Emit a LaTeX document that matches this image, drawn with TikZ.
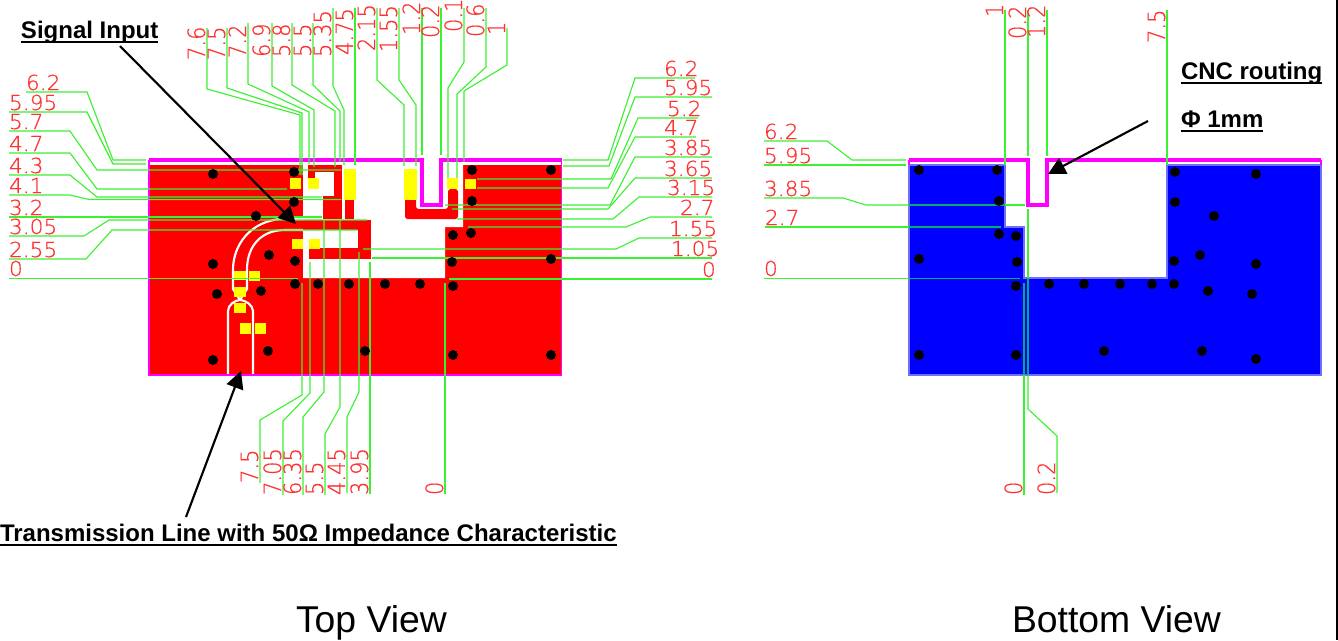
\documentclass[tikz,border=0pt]{standalone}
\usepackage{fontspec}
\usepackage{graphicx}
\usetikzlibrary{arrows.meta}
\setmainfont{Liberation Sans}
\newfontfamily\dimfont[FakeBold=0.5]{DejaVu Sans ExtraLight}
\definecolor{pcbred}{RGB}{255,0,0}
\definecolor{pcbblue}{RGB}{0,0,255}
\definecolor{pcbedge}{RGB}{110,110,255}
\definecolor{route}{RGB}{255,0,255}
\definecolor{pad}{RGB}{255,255,0}
\definecolor{dimgreen}{RGB}{60,240,50}
\definecolor{dimteal}{RGB}{0,175,110}
\definecolor{dimred}{RGB}{255,50,50}
\newcounter{lbl}
\newcommand\ulbox[1]{\setbox0=\hbox{#1}\leavevmode\rlap{\rule[-0.2em]{\wd0}{0.11em}}\box0}
\newcommand\hlab[3]{\stepcounter{lbl}\node[dimh] (lab\arabic{lbl}) at (#1,#2-2) {\scalebox{1.05}[1]{#3}};}
\newcommand\vlab[3]{\stepcounter{lbl}\node[dimv] (lab\arabic{lbl}) at (#1-2,#2) {\scalebox{1.02}[1.15]{#3}};}
\tikzset{
  dimh/.style={anchor=base west,inner sep=0pt,outer sep=0pt,text=dimred,font=\dimfont\fontsize{15.5pt}{16pt}\selectfont},
  dimv/.style={dimh,rotate=90},
  leader/.style={draw=dimgreen,line width=0.85pt,line join=miter},
  leaderb/.style={draw=dimteal,line width=0.85pt},
  cutline/.style={draw=route,line width=2.6pt,line join=miter},
  thinedge/.style={draw=route,line width=1.1pt},
  trackline/.style={draw=white,line width=1.6pt},
  callout/.style={draw=black,line width=1.6pt,-{Triangle[length=13pt,width=13pt]}},
  bold note/.style={anchor=base west,inner sep=0pt,outer sep=0pt,font=\bfseries\fontsize{18pt}{20pt}\selectfont},
  view title/.style={anchor=base west,inner sep=0pt,outer sep=0pt,font=\fontsize{28pt}{30pt}\selectfont}
}
\begin{document}
\begin{tikzpicture}[x=0.75pt,y=-0.75pt]
\useasboundingbox (0,0) rectangle (1338,640);
% ---------- TOP VIEW BOARD ----------
\fill[pcbred] (149,164.5) rectangle (561,374);
\fill[white] (303,164) -- (463,164) -- (463,227) -- (445,227) -- (445,278) -- (303,278) -- cycle;
% red copper pieces in the cut-out
\fill[pcbred] (308,165) rectangle (342,172);
\fill[pcbred] (334,165) rectangle (342,219);
\fill[pcbred] (323,196) rectangle (342,219);
\fill[pcbred] (308,165) rectangle (315,178);
\fill[pcbred] (345,200) rectangle (354,219);
\fill[pcbred] (303,219.5) rectangle (371,230);
\fill[pcbred] (358,219.5) rectangle (371,259);
\fill[pcbred] (309,248) rectangle (371,259);
\fill[pcbred,rounded corners=2pt] (405,195) -- (405,219) -- (458,219) -- (458,189) -- (448,189) -- (448,209) -- (416,209) -- (416,195) -- cycle;
% transmission line outlines
\draw[trackline] (303,219) -- (280,219) .. controls (250,222) and (233,245) .. (233,270) -- (233,289) -- (240,300);
\draw[trackline] (303,230) -- (285,230) .. controls (262,230) and (247,245) .. (247,270) -- (247,289) -- (240,300);
\draw[trackline] (228,374) -- (228,311) .. controls (228,305) and (235,300) .. (240,300) .. controls (245,300) and (253,305) .. (253,311) -- (253,374);
% pads
\foreach \a/\b/\c/\d in {234/271/246/280, 249/271/260/281, 234/287/246/297, 234/303/246/313, 240/323/251/334, 255/323/266/334,
 290/178/301/189, 308/178/319/189, 292/239/303/249, 309/239/320/249, 344/169/356/200, 404/169/417/200, 447/178/458/189, 465/179/476/189}
  \fill[pad] (\a,\b) rectangle (\c,\d);
% board edge and routing
\draw[thinedge] (149,160) -- (149,375) -- (561.5,375) -- (561.5,160);
\draw[cutline] (149,160) -- (422,160) -- (422,205) -- (441,205) -- (441,160) -- (561.5,160);
% leaders, left
\draw[leader] (26,92) -- (87,92) -- (113,160) -- (146,160);
\draw[leader] (9,112) -- (87,112) -- (113,164) -- (146,164);
\draw[leader] (9,131) -- (70,131) -- (97,170) -- (341,170);
\draw[leader] (9,153) -- (70,153) -- (97,189) -- (287,189);
\draw[leader] (9,175) -- (70,175) -- (97,197) -- (322,197);
\draw[leader] (9,195) -- (70,195) -- (89,199.5) -- (341,199.5);
\draw[leader] (9,217) -- (322,217);
\draw[leader] (9,236) -- (84,236) -- (109,220) -- (367,220);
\draw[leader] (9,259) -- (86,259) -- (112,230) -- (357,230);
\draw[leader] (9,278.5) -- (298,278.5);
% leaders, right
\draw[leader] (563,160) -- (608,160) -- (635,78) -- (695,78);
\draw[leader] (563,166) -- (609,166) -- (635,97) -- (712,97);
\draw[leader] (477,179) -- (611,179) -- (638,118) -- (698,118);
\draw[leader] (477,188) -- (608,188) -- (635,137) -- (696,137);
\draw[leader] (445,205) -- (610,205) -- (635,157) -- (712,157);
\draw[leader] (452,209) -- (608,209) -- (635,178) -- (712,178);
\draw[leader] (457,219) -- (613,219) -- (639,197) -- (712,197);
\draw[leader] (468,227) -- (626,227) -- (650,217) -- (712,217);
\draw[leader] (363,249) -- (616,249) -- (639,238) -- (712,238);
\draw[leader] (372,258) -- (712,258);
\draw[leader] (449,279) -- (712,279);
% leaders, top
\draw[leader] (207,28) -- (207,89) -- (300,115) -- (300,175);
\draw[leader] (227,28) -- (227,88) -- (302,113) -- (302,175);
\draw[leader] (248,23) -- (248,84) -- (309,112) -- (309,164);
\draw[leader] (272,23) -- (272,86) -- (314,110) -- (314,167);
\draw[leader] (292,23) -- (292,85) -- (335,111) -- (335,167);
\draw[leader] (313,23) -- (313,85) -- (340,111) -- (340,162);
\draw[leader] (333,8) -- (333,86) -- (344,110) -- (344,165);
\draw[leader] (355,8) -- (355,165);
\draw[leader] (377,8) -- (377,80) -- (404,105) -- (404,166);
\draw[leader] (399,8) -- (399,80) -- (416,105) -- (416,166);
\draw[leader] (422,8) -- (422,155);
\draw[leader] (441,8) -- (441,155);
\draw[leader] (464,8) -- (464,62) -- (448,88) -- (448,178);
\draw[leader] (486,8) -- (486,67) -- (457,94) -- (457,178);
\draw[leader] (507,28) -- (507,65) -- (464,91) -- (464,162);
% leaders, bottom
\draw[leader] (302,283) -- (302,395) -- (260,420) -- (260,483);
\draw[leader] (310,262) -- (310,393) -- (283,421) -- (283,495);
\draw[leader] (324,220) -- (324,392) -- (303,417) -- (303,495);
\draw[leader] (340,220) -- (340,407) -- (325,434) -- (325,495);
\draw[leader] (359,252) -- (359,392) -- (347,417) -- (347,493);
\draw[leader] (370,262) -- (370,494);
\draw[leader] (445,283) -- (445,494);
% drill dots, top view
\foreach \x/\y in {213/174,294/172,294/202,256/216,269/255,295/261,213/264,217/294,261/291,295/284,318/284,349/284,385/284,420/284,453/286,452/262,453/235,268/351,213/360,365/351,453/355,551/170,472/170,472/201,471/233,551/259,551/355}
  \fill[black] (\x,\y) circle (5);
% labels, top view
\hlab{26}{92}{6.2}\hlab{9}{112}{5.95}\hlab{9}{131}{5.7}\hlab{9}{153}{4.7}\hlab{9}{175}{4.3}
\hlab{9}{195}{4.1}\hlab{9}{217}{3.2}\hlab{9}{236}{3.05}\hlab{9}{259}{2.55}\hlab{9}{278}{0}
\hlab{664}{78}{6.2}\hlab{664}{97}{5.95}\hlab{667}{118}{5.2}\hlab{664}{137}{4.7}\hlab{664}{157}{3.85}
\hlab{664}{178}{3.65}\hlab{667}{197}{3.15}\hlab{680}{217}{2.7}\hlab{669}{238}{1.55}\hlab{671}{258}{1.05}\hlab{702}{279}{0}
\vlab{207}{60}{7.6}\vlab{227}{60}{7.5}\vlab{248}{58}{7.2}\vlab{272}{57}{6.9}\vlab{292}{57}{5.8}
\vlab{313}{57}{5.5}\vlab{333}{57}{5.35}\vlab{355}{55}{4.75}\vlab{377}{51}{2.15}\vlab{399}{52}{1.55}
\vlab{422}{35}{1.2}\vlab{441}{38}{0.2}\vlab{464}{32}{0.1}\vlab{486}{37}{0.6}\vlab{507}{35}{1}
\vlab{260}{483}{7.5}\vlab{283}{495}{7.05}\vlab{303}{495}{6.35}\vlab{325}{495}{5.5}\vlab{347}{495}{4.45}\vlab{370}{495}{3.95}\vlab{445}{495}{0}
% ---------- BOTTOM VIEW BOARD ----------
\fill[pcbblue,draw=pcbedge,line width=0.8pt] (909,165) -- (1005,165) -- (1005,227) -- (1024,227) -- (1024,278) -- (1167,278) -- (1167,165) -- (1321,165) -- (1321,375) -- (909,375) -- cycle;
\draw[thinedge] (909,160) -- (909,165) (1321,160) -- (1321,165);
\draw[cutline] (909,160) -- (1028,160) -- (1028,205) -- (1047,205) -- (1047,160) -- (1321,160);
% leaders, bottom view
\draw[leader] (764,141) -- (827,141) -- (852,160) -- (906,160);
\draw[leader] (764,165) -- (906,165);
\draw[leader] (764,198) -- (843,198) -- (866,205) -- (909,205);
\draw[leaderb] (909,205) -- (1005,205);
\draw[leader] (1005,205) -- (1025,205);
\draw[leader] (765,227) -- (909,227);
\draw[leaderb] (909,227) -- (1001,227);
\draw[leader] (764,278.5) -- (909,278.5);
\draw[leaderb] (909,278.5) -- (1020,278.5);
\draw[leader] (1005,10) -- (1005,165);
\draw[leader] (1028,10) -- (1028,156);
\draw[leader] (1047,10) -- (1047,156);
\draw[leader] (1167,10) -- (1167,165);
\draw[leaderb] (1024,283) -- (1024,375);
\draw[leader] (1024,375) -- (1024,495);
\draw[leader] (1028,209) -- (1028,278);
\draw[leaderb] (1028,278) -- (1028,375);
\draw[leader] (1028,375) -- (1028,409) -- (1057,436) -- (1057,493);
% drill dots, bottom view
\foreach \x/\y in {919/170,997/170,999/201,999/234,1016/236,1017/262,919/259,1016/286,1049/284,1084/284,1120/284,1152/284,1174/284,1174/261,1175/202,1175/172,1214/216,1256/174,1200/255,1256/264,1208/291,1252/294,919/355,1016/355,1104/351,1202/351,1256/359}
  \fill[black] (\x,\y) circle (5);
% labels, bottom view
\hlab{764}{141}{6.2}\hlab{764}{165}{5.95}\hlab{764}{198}{3.85}\hlab{765}{227}{2.7}\hlab{764}{278}{0}
\vlab{1005}{17}{1}\vlab{1028}{39}{0.2}\vlab{1047}{38}{1.2}\vlab{1167}{43}{7.5}
\vlab{1024}{495}{0}\vlab{1057}{495}{0.2}
% ---------- NOTES AND CALLOUTS ----------
\node[bold note] (sig) at (21,38.5) {\ulbox{Signal Input}};
\node[bold note] (trl) at (0,541.5) {\ulbox{Transmission Line with 50Ω Impedance Characteristic}};
\node[bold note] (cnc) at (1181,79.5) {\ulbox{CNC routing}};
\node[bold note] (phi) at (1181,127.5) {\ulbox{Φ 1mm}};
\coordinate (sigtail) at (120,46);
\coordinate (sigtip) at (296,224);
\coordinate (trltail) at (186,517);
\coordinate (trltip) at (241,371);
\coordinate (cnctail) at (1148,121);
\coordinate (cnctip) at (1048,174);
\draw[callout] (sigtail) -- (sigtip);
\draw[callout] (trltail) -- (trltip);
\draw[callout] (cnctail) -- (cnctip);
\node[view title] (topv) at (296,632) {Top View};
\node[view title] (botv) at (1012,632) {Bottom View};
% page edge
\draw[black,line width=1.1pt] (1337,0) -- (1337,640);
\end{tikzpicture}
\end{document}
